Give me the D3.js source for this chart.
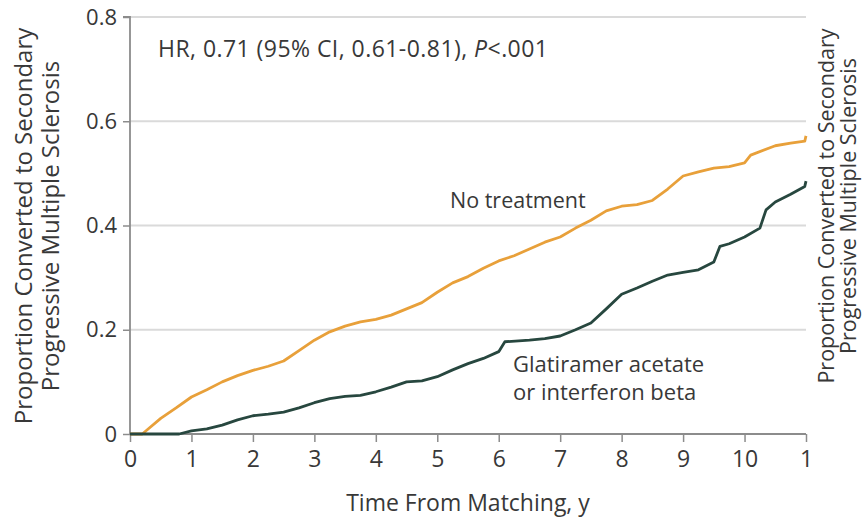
<!DOCTYPE html>
<html>
<head>
<meta charset="utf-8">
<script src="https://cdn.jsdelivr.net/npm/d3@7"></script>
<style>
  body { margin: 0; background: #fff; }
  svg { display: block; font-family: "Open Sans", Lato, sans-serif; }
</style>
</head>
<body>
<svg id="chart" width="867" height="517"></svg>
<script>
// Cumulative proportion converted
const noTreatTime = [0, 0.2, 0.3, 0.5, 0.75, 1.0, 1.25, 1.5, 1.75, 2.0, 2.25, 2.5, 2.75, 3.0, 3.25, 3.5, 3.75, 4.0, 4.25, 4.5, 4.75, 5.0, 5.25, 5.5, 5.75, 6.0, 6.25, 6.5, 6.75, 7.0, 7.25, 7.5, 7.75, 8.0, 8.25, 8.5, 8.75, 9.0, 9.25, 9.5, 9.75, 10.0, 10.1, 10.5, 10.75, 10.98, 11.0];
const noTreatValue = [0, 0, 0.01, 0.03, 0.05, 0.071, 0.085, 0.1, 0.112, 0.122, 0.13, 0.14, 0.16, 0.18, 0.196, 0.207, 0.215, 0.22, 0.228, 0.24, 0.252, 0.272, 0.29, 0.302, 0.318, 0.332, 0.342, 0.355, 0.368, 0.378, 0.395, 0.41, 0.428, 0.437, 0.44, 0.448, 0.47, 0.495, 0.503, 0.51, 0.513, 0.52, 0.535, 0.553, 0.558, 0.562, 0.572];

const treatedTime = [0, 0.8, 1.0, 1.25, 1.5, 1.75, 2.0, 2.25, 2.5, 2.75, 3.0, 3.25, 3.5, 3.75, 4.0, 4.25, 4.5, 4.75, 5.0, 5.25, 5.5, 5.75, 6.0, 6.1, 6.5, 6.75, 7.0, 7.25, 7.5, 7.75, 8.0, 8.25, 8.5, 8.75, 9.0, 9.25, 9.5, 9.6, 9.75, 10.0, 10.25, 10.35, 10.5, 10.75, 10.98, 11.0];
const treatedValue = [0, 0, 0.006, 0.01, 0.017, 0.027, 0.035, 0.038, 0.042, 0.05, 0.06, 0.068, 0.072, 0.074, 0.081, 0.09, 0.1, 0.102, 0.11, 0.123, 0.135, 0.145, 0.158, 0.177, 0.18, 0.183, 0.188, 0.2, 0.213, 0.24, 0.268, 0.28, 0.293, 0.305, 0.31, 0.315, 0.33, 0.36, 0.365, 0.378, 0.395, 0.43, 0.445, 0.46, 0.475, 0.485];

const xTicks = [0, 1, 2, 3, 4, 5, 6, 7, 8, 9, 10, 11];
const xTickLabels = ['0', '1', '2', '3', '4', '5', '6', '7', '8', '9', '10', '1'];
const yTicks = [0, 0.2, 0.4, 0.6, 0.8];
const yTickLabels = ['0', '0.2', '0.4', '0.6', '0.8'];

const svg = d3.select('#chart');
const margin = { left: 130, right: 61, top: 17, bottom: 83 };
const width = 867, height = 517;

const x = d3.scaleLinear().domain([0, 11]).range([margin.left, width - margin.right]);
const y = d3.scaleLinear().domain([0, 0.8]).range([height - margin.bottom, margin.top]);

const textColor = '#383838';
const axisColor = '#8c8c8c';

// gridlines
svg.append('g')
  .selectAll('line')
  .data(yTicks.filter((d) => d > 0))
  .join('line')
  .attr('x1', x(0))
  .attr('x2', x(11))
  .attr('y1', (d) => y(d))
  .attr('y2', (d) => y(d))
  .attr('stroke', '#dadada')
  .attr('stroke-width', 1.8);

// y axis
const yAxis = svg.append('g')
  .attr('transform', `translate(${x(0)},0)`)
  .call(d3.axisLeft(y).tickValues(yTicks).tickFormat((d, i) => yTickLabels[i]).tickSize(7).tickPadding(6));
yAxis.select('.domain').attr('stroke', axisColor).attr('stroke-width', 1.8).attr('d', `M-7,${y(0.8)}H0V${y(0)}`);
yAxis.selectAll('.tick line').attr('stroke', axisColor).attr('stroke-width', 1.5);
yAxis.selectAll('.tick text').attr('fill', textColor).attr('font-size', 22).attr('font-family', '"Open Sans", sans-serif');

// x axis
const xAxis = svg.append('g')
  .attr('transform', `translate(0,${y(0)})`)
  .call(d3.axisBottom(x).tickValues(xTicks).tickFormat((d, i) => xTickLabels[i]).tickSize(8).tickPadding(9));
xAxis.select('.domain').attr('stroke', axisColor).attr('stroke-width', 1.8).attr('d', `M${x(0)},0H${x(11)}`);
xAxis.selectAll('.tick line').attr('stroke', axisColor).attr('stroke-width', 1.5);
xAxis.selectAll('.tick text').attr('fill', textColor).attr('font-size', 23).attr('font-family', '"Open Sans", sans-serif');

// curves
const line = d3.line()
  .x((d) => x(d[0]))
  .y((d) => y(d[1]))
  .curve(d3.curveLinear);

const series = [
  { name: 'No treatment', time: noTreatTime, value: noTreatValue, color: '#e8a03a' },
  { name: 'Glatiramer acetate or interferon beta', time: treatedTime, value: treatedValue, color: '#27473f' }
];

svg.append('g')
  .selectAll('path')
  .data(series)
  .join('path')
  .attr('d', (s) => line(s.time.map((t, i) => [t, s.value[i]])))
  .attr('fill', 'none')
  .attr('stroke', (s) => s.color)
  .attr('stroke-width', 2.8)
  .attr('stroke-linejoin', 'round');

// annotations
const hr = svg.append('text')
  .attr('x', 158)
  .attr('y', 57)
  .attr('fill', textColor)
  .attr('font-size', 23)
  .attr('letter-spacing', 0.45);
hr.append('tspan').text('HR, 0.71 (95% CI, 0.61-0.81), ');
hr.append('tspan').attr('font-style', 'italic').text('P');
hr.append('tspan').text('<.001');

svg.append('text')
  .attr('x', 450)
  .attr('y', 208)
  .attr('fill', textColor)
  .attr('font-size', 21.5)
  .text('No treatment');

svg.append('text')
  .attr('x', 513)
  .attr('y', 372)
  .attr('fill', textColor)
  .attr('font-size', 22)
  .text('Glatiramer acetate');
svg.append('text')
  .attr('x', 513)
  .attr('y', 400)
  .attr('fill', textColor)
  .attr('font-size', 22)
  .text('or interferon beta');

svg.append('text')
  .attr('x', (x(0) + x(11)) / 2)
  .attr('y', 511)
  .attr('text-anchor', 'middle')
  .attr('fill', textColor)
  .attr('font-size', 23)
  .text('Time From Matching, y');

// y labels, left and right
function yLabel(cx, cy, size, gap) {
  const g = svg.append('g').attr('transform', `translate(${cx},${cy}) rotate(-90)`);
  g.append('text')
    .attr('text-anchor', 'middle')
    .attr('y', 0)
    .attr('fill', textColor)
    .attr('font-size', size)
    .text('Proportion Converted to Secondary');
  g.append('text')
    .attr('text-anchor', 'middle')
    .attr('y', gap)
    .attr('fill', textColor)
    .attr('font-size', size)
    .text('Progressive Multiple Sclerosis');
}
yLabel(32, 226, 24, 27);
yLabel(834, 206, 21.5, 22);
</script>
</body>
</html>
